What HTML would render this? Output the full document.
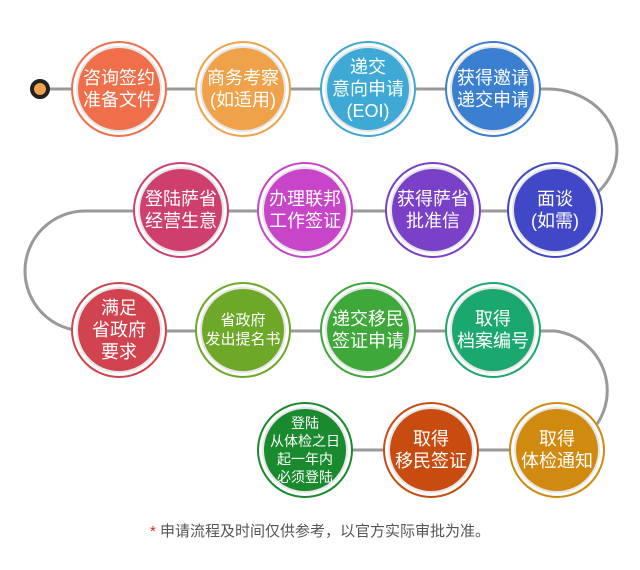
<!DOCTYPE html>
<html><head><meta charset="utf-8"><style>
body{margin:0;width:640px;height:570px;background:#fff;position:relative;overflow:hidden;font-family:"Liberation Sans","Noto Sans CJK SC",sans-serif}
.c{position:absolute;width:96px;height:96px;border-radius:50%;border:2px solid;background:#fff;box-sizing:border-box}
.c div{position:absolute;left:5px;top:5px;width:82px;height:82px;border-radius:50%;box-shadow:0 0 0 2px #e6e6e6;display:flex;align-items:center;justify-content:center;text-align:center;color:#fff;font-size:18px;line-height:22px;white-space:nowrap}
.note{position:absolute;top:520px;left:0;width:640px;text-align:center;font-size:15px;color:#555}
</style></head><body>
<svg width="640" height="570" style="position:absolute;left:0;top:0">
<g fill="none" stroke="#999" stroke-width="3">
<path d="M40 89 H493 H548 A69 61 0 0 1 548 211 H85 A60 60 0 0 0 85 331 H555 A60 60 0 0 1 555 450 H305"/>
</g>
<circle cx="40" cy="89" r="8" fill="#f0a24a" stroke="#222" stroke-width="4"/>
</svg>
<div class="c" style="left:71px;top:41px;border-color:#ef6f4a"><div style="background:#ef6f4a">咨询签约<br>准备文件</div></div>
<div class="c" style="left:195px;top:41px;border-color:#f0a24a"><div style="background:#f0a24a">商务考察<br>(如适用)</div></div>
<div class="c" style="left:320px;top:41px;border-color:#3fa9d6"><div style="background:#3fa9d6">递交<br>意向申请<br>(EOI)</div></div>
<div class="c" style="left:445px;top:41px;border-color:#3a7fd0"><div style="background:#3a7fd0">获得邀请<br>递交申请</div></div>
<div class="c" style="left:507px;top:162px;border-color:#4048c8"><div style="background:#4048c8">面谈<br>(如需)</div></div>
<div class="c" style="left:385px;top:162px;border-color:#7a40c8"><div style="background:#7a40c8">获得萨省<br>批准信</div></div>
<div class="c" style="left:257px;top:162px;border-color:#c844c8"><div style="background:#c844c8">办理联邦<br>工作签证</div></div>
<div class="c" style="left:133px;top:162px;border-color:#cf3f6e"><div style="background:#cf3f6e">登陆萨省<br>经营生意</div></div>
<div class="c" style="left:71px;top:282px;border-color:#d0434f"><div style="background:#d0434f">满足<br>省政府<br>要求</div></div>
<div class="c" style="left:195px;top:282px;border-color:#6ea829"><div style="background:#6ea829;font-size:15px;line-height:19px">省政府<br>发出提名书</div></div>
<div class="c" style="left:320px;top:282px;border-color:#3ea83a"><div style="background:#3ea83a">递交移民<br>签证申请</div></div>
<div class="c" style="left:445px;top:282px;border-color:#1aa86e"><div style="background:#1aa86e">取得<br>档案编号</div></div>
<div class="c" style="left:509px;top:402px;border-color:#d08a10"><div style="background:#d08a10">取得<br>体检通知</div></div>
<div class="c" style="left:383px;top:402px;border-color:#c84c10"><div style="background:#c84c10">取得<br>移民签证</div></div>
<div class="c" style="left:257px;top:402px;border-color:#1a8a2e"><div style="background:#1a8a2e;font-size:14px;line-height:18px">登陆<br>从体检之日<br>起一年内<br>必须登陆</div></div>
<div class="note"><span style="color:#e02020">*</span> 申请流程及时间仅供参考，以官方实际审批为准。</div>
</body></html>
